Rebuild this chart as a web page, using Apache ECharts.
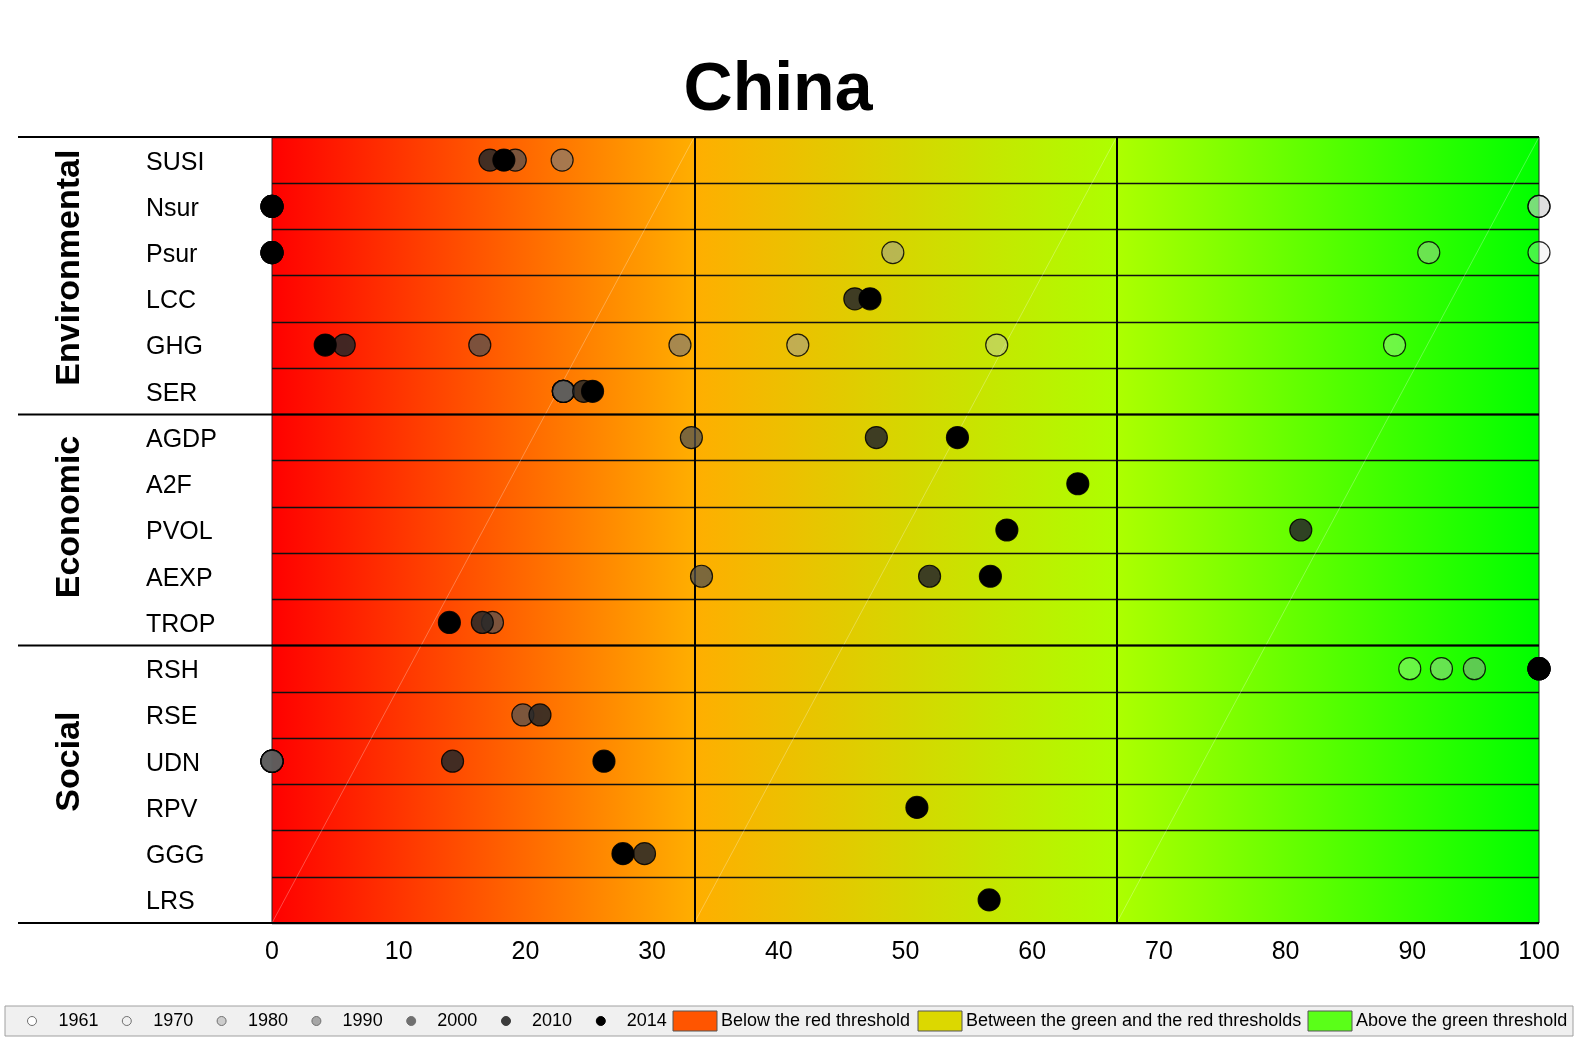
<!DOCTYPE html>
<html><head><meta charset="utf-8">
<script src="https://cdn.jsdelivr.net/npm/echarts@6/dist/echarts.min.js"></script>
<style>html,body{margin:0;padding:0;background:#fff}#c{width:1583px;height:1039px}</style>
</head><body><div id="c"></div>
<script>
// ---------- data ----------
const indicators = ['SUSI','Nsur','Psur','LCC','GHG','SER','AGDP','A2F','PVOL','AEXP','TROP','RSH','RSE','UDN','RPV','GGG','LRS'];
const groups = ['Environmental','Economic','Social'];
const groupSizes = [6, 5, 6];
const years = ['1961','1970','1980','1990','2000','2010','2014'];
const xTicks = [0,10,20,30,40,50,60,70,80,90,100];
const thresholds = [33.333, 66.667];
const thresholdClasses = ['Below the red threshold','Between the green and the red thresholds','Above the green threshold'];
//                SUSI  Nsur Psur  LCC   GHG   SER   AGDP  A2F   PVOL  AEXP  TROP  RSH   RSE   UDN   RPV   GGG   LRS
const v1961 = [null, 100,  100,  null, 88.6, 23.0, null, null, null, null, null, 89.8, null, 0,    null, null, null];
const v1970 = [null, 100,  91.3, null, 57.2, 23.0, null, null, null, null, null, 92.3, null, 0,    null, null, null];
const v1980 = [null, null, 49.0, null, 41.5, 23.0, null, null, null, null, null, 94.9, null, 0,    null, null, null];
const v1990 = [22.9, 0,    0,    null, 32.2, 23.0, null, null, null, null, null, 100,  null, 0,    null, null, null];
const v2000 = [19.2, 0,    0,    null, 16.4, 23.0, 33.1, null, null, 33.9, 17.4, 100,  19.8, 0,    null, null, null];
const v2010 = [17.2, 0,    0,    46.0, 5.7,  24.6, 47.7, null, 81.2, 51.9, 16.6, 100,  21.15,14.25,null, 29.4, null];
const v2014 = [18.3, 0,    0,    47.2, 4.2,  25.3, 54.1, 63.6, 58.0, 56.7, 14.0, 100,  null, 26.2, 50.9, 27.7, 56.6];
const yearValues = [v1961, v1970, v1980, v1990, v2000, v2010, v2014];

// ---------- styles ----------
const yearGray  = [230, 190, 155, 120, 80, 40, 0];
const yearAlpha = [0.30, 0.42, 0.52, 0.65, 0.75, 0.88, 1];
const legendFill = ['#ffffff','#f0f0f0','#cccccc','#a6a6a6','#707070','#3c3c3c','#000000'];
const classColors = ['#ff5500','#dcd800','#5aff18'];
const FONT = '"Liberation Sans", Arial, sans-serif';

const W = 1583, H = 1039;
const L = 272, R = 1539, T = 137, B = 923;
const rowH = (B - T) / indicators.length;

const chart = echarts.init(document.getElementById('c'), null, {renderer: 'canvas'});

const scatterSeries = years.map((y, i) => ({
  name: y,
  type: 'scatter',
  xAxisIndex: 0, yAxisIndex: 0,
  z: 3 + i,
  clip: false,
  symbol: 'circle',
  symbolSize: 22,
  data: yearValues[i].map((v, k) => v === null ? null : [v, indicators[k]]).filter(d => d),
  itemStyle: {
    color: `rgba(${yearGray[i]},${yearGray[i]},${yearGray[i]},${yearAlpha[i]})`,
    borderColor: 'rgba(0,0,0,0.85)',
    borderWidth: 1.2,
    opacity: 1
  },
  emphasis: {disabled: true}
}));

// faint diagonal lines (one per third), on a hidden 0..1 axis
const diagSeries = [0, 1, 2].map(j => ({
  type: 'line',
  xAxisIndex: 0, yAxisIndex: 1,
  z: 1,
  silent: true,
  symbol: 'none',
  data: [[j * 100 / 3, 0], [(j + 1) * 100 / 3, 1]],
  lineStyle: {color: 'rgba(255,255,255,0.28)', width: 1},
  markLine: j === 0 ? {
    silent: true, symbol: 'none', label: {show: false},
    lineStyle: {color: '#000', width: 2, type: 'solid'},
    data: thresholds.map(t => ({xAxis: t}))
  } : undefined
}));

const graphic = [];
// horizontal frame lines extending to the left label area
const sepRows = [0];
let acc = 0;
groupSizes.forEach(s => { acc += s; sepRows.push(acc); });
sepRows.forEach(r => {
  graphic.push({type: 'line', z: 10, shape: {x1: 18, y1: T + r * rowH, x2: R, y2: T + r * rowH},
    style: {stroke: '#000', lineWidth: 2}});
});
// group labels
const groupCenters = [267.6, 517, 761.6];
groups.forEach((g, i) => {
  graphic.push({type: 'text', x: 70, y: groupCenters[i], rotation: Math.PI / 2,
    style: {text: g, font: `bold 34px ${FONT}`, fill: '#000', textAlign: 'center', textVerticalAlign: 'middle'}});
});
// title
graphic.push({type: 'text', x: 778, y: 91,
  style: {text: 'China', font: `bold 68px ${FONT}`, fill: '#000', textAlign: 'center', textVerticalAlign: 'middle'}});
// legend
graphic.push({type: 'rect', shape: {x: 5, y: 1006, width: 1568, height: 30},
  style: {fill: '#f0f0f0', stroke: '#a0a0a0', lineWidth: 1}});
const LY = 1021;
years.forEach((y, i) => {
  graphic.push({type: 'circle', shape: {cx: 32 + i * 94.8, cy: LY, r: 4.5},
    style: {fill: legendFill[i], stroke: i < 4 ? '#707070' : legendFill[i], lineWidth: 1}});
  graphic.push({type: 'text', x: 58.5 + i * 94.7, y: LY,
    style: {text: y, font: `18px ${FONT}`, fill: '#000', textVerticalAlign: 'middle'}});
});
const boxX = [673, 918, 1308];
thresholdClasses.forEach((c, i) => {
  graphic.push({type: 'rect', shape: {x: boxX[i], y: 1011, width: 44, height: 20},
    style: {fill: classColors[i], stroke: '#555', lineWidth: 1}});
  graphic.push({type: 'text', x: boxX[i] + 48, y: LY,
    style: {text: c, font: `18px ${FONT}`, fill: '#000', textVerticalAlign: 'middle'}});
});

chart.setOption({
  backgroundColor: '#fff',
  animation: false,
  grid: {
    left: L, right: W - R, top: T, bottom: H - B,
    show: true,
    borderColor: '#222', borderWidth: 1,
    backgroundColor: {
      type: 'linear', x: 0, y: 0, x2: 1, y2: 0,
      colorStops: [
        {offset: 0, color: '#ff0000'},
        {offset: 1/3, color: '#ffae00'},
        {offset: 2/3, color: '#adff00'},
        {offset: 1, color: '#00ff00'}
      ]
    }
  },
  xAxis: {
    type: 'value', min: xTicks[0], max: xTicks[xTicks.length - 1], interval: 10,
    axisLine: {show: false}, axisTick: {show: false}, splitLine: {show: false},
    axisLabel: {fontSize: 25, color: '#000', fontFamily: FONT, margin: 17}
  },
  yAxis: [{
    type: 'category', data: indicators, inverse: true,
    axisLine: {show: false}, axisTick: {show: false},
    splitLine: {show: true, interval: 0, lineStyle: {color: '#111', width: 1.3}},
    axisLabel: {color: '#000', align: 'left', margin: L - 146, interval: 0,
      formatter: v => '{a|' + v + '}',
      rich: {a: {fontSize: 25, color: '#000', fontFamily: FONT, padding: [5, 0, 0, 0]}}}
  }, {
    type: 'value', min: 0, max: 1, show: false
  }],
  series: [...diagSeries, ...scatterSeries],
  graphic: graphic
});
</script></body></html>
